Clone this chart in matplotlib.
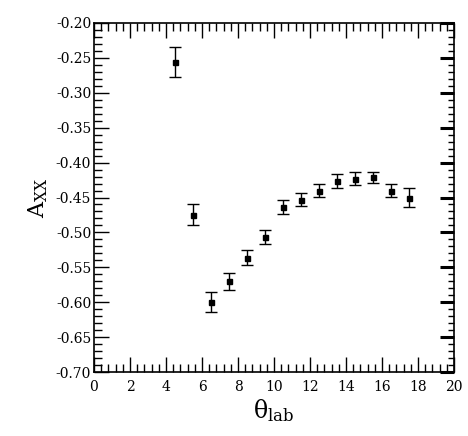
import numpy as np
import matplotlib
matplotlib.use("Agg")
import matplotlib.pyplot as plt
import matplotlib.ticker as ticker

# scattering angle (lab) and analysing power A_xx with errors
theta = [4.5, 5.5, 6.5, 7.5, 8.5, 9.5, 10.5, 11.5, 12.5, 13.5, 14.5, 15.5, 16.5, 17.5]
axx = [-0.256, -0.475, -0.600, -0.570, -0.536, -0.507, -0.464, -0.453,
       -0.440, -0.427, -0.423, -0.421, -0.440, -0.450]
axx_err = [0.021, 0.015, 0.014, 0.012, 0.011, 0.010, 0.010, 0.009,
           0.009, 0.010, 0.009, 0.008, 0.009, 0.013]

matplotlib.rcParams.update({'font.family': 'DejaVu Serif',
                            'mathtext.fontset': 'dejavuserif',
                            'axes.unicode_minus': False})

fig = plt.figure(figsize=(4.68, 4.36), dpi=100)
ax = fig.add_axes([94 / 468, 64 / 436, 360 / 468, 349 / 436])

ax.errorbar(theta, axx, yerr=axx_err, fmt='s', color='black',
            markersize=3.6, elinewidth=1.0, capsize=4.5, capthick=1.0)

ax.set_xlim(0, 20)
ax.set_ylim(-0.70, -0.20)
ax.xaxis.set_major_locator(ticker.MultipleLocator(2))
ax.xaxis.set_minor_locator(ticker.MultipleLocator(0.4))
ax.yaxis.set_major_locator(ticker.MultipleLocator(0.05))
ax.yaxis.set_minor_locator(ticker.MultipleLocator(0.01))
ax.yaxis.set_major_formatter(ticker.FormatStrFormatter('%.2f'))
ax.xaxis.set_major_formatter(ticker.FormatStrFormatter('%d'))

ax.tick_params(which='both', direction='in', top=True, right=True,
               labelsize=10, color='black')
ax.tick_params(which='major', length=11, width=1.0)
ax.tick_params(which='minor', length=5.5, width=1.0)
ax.tick_params(axis='x', which='major', pad=6)
ax.tick_params(axis='y', which='major', pad=2)

# right-hand major ticks are drawn heavier in the original
for t in ax.yaxis.get_major_ticks():
    t.tick2line.set_markeredgewidth(2.2)
    t.tick2line.set_markersize(10)
for t in ax.yaxis.get_minor_ticks():
    t.tick2line.set_markersize(4.5)

for s in ax.spines.values():
    s.set_linewidth(1.2)

ax.set_xlabel(r'$\mathrm{\theta_{lab}}$', fontsize=17, labelpad=2)
ax.set_ylabel(r'$\mathrm{A_{XX}}$', fontsize=16, labelpad=4)

fig.savefig('out.png', dpi=100)
